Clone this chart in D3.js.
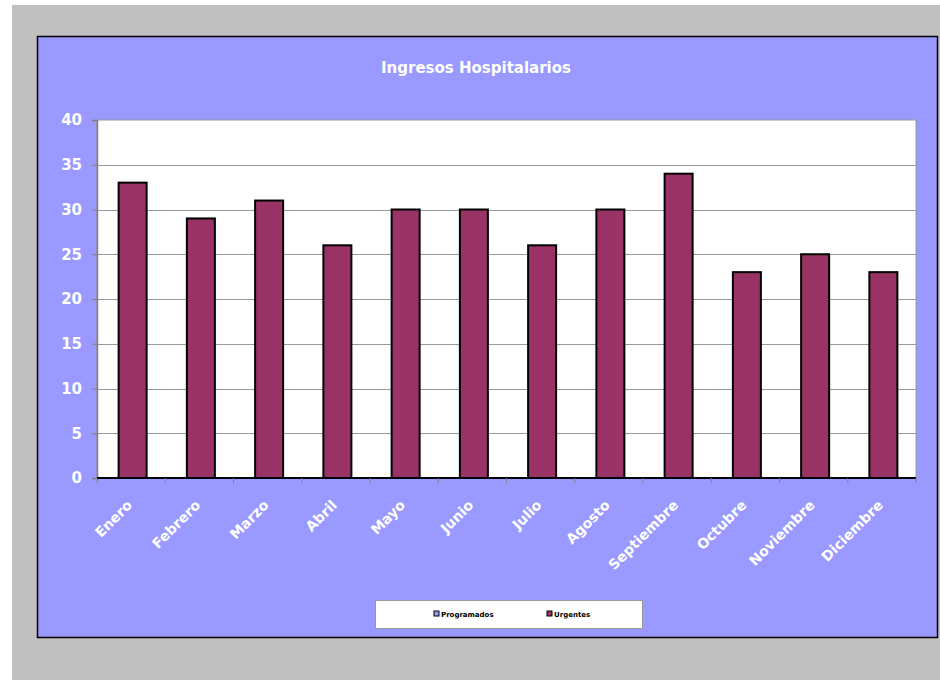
<!DOCTYPE html>
<html>
<head>
<meta charset="utf-8">
<script src="https://cdn.jsdelivr.net/npm/d3@7"></script>
<style>
  body { margin: 0; background: #fff; }
  svg { display: block; }
</style>
</head>
<body>
<svg></svg>
<script>
// Ingresos Hospitalarios - bar chart
const months = ["Enero", "Febrero", "Marzo", "Abril", "Mayo", "Junio", "Julio",
  "Agosto", "Septiembre", "Octubre", "Noviembre", "Diciembre"];
const urgentes = [33, 29, 31, 26, 30, 30, 26, 30, 34, 23, 25, 23];
const yTicks = [0, 5, 10, 15, 20, 25, 30, 35, 40];
const seriesNames = ["Programados", "Urgentes"];
const seriesColors = ["#9999ff", "#993366"];

const W = 940, H = 680;
const svg = d3.select("svg").attr("width", W).attr("height", H);
const font = "'DejaVu Sans', Verdana, sans-serif";

// gray page + blue chart area
svg.append("rect").attr("x", 12).attr("y", 5).attr("width", W - 12).attr("height", H - 5)
  .attr("fill", "#c0c0c0");
svg.append("rect").attr("x", 37.5).attr("y", 36.5).attr("width", 900).attr("height", 601)
  .attr("fill", "#9999ff").attr("stroke", "#000").attr("stroke-width", 1.5);

svg.append("text")
  .attr("x", 476).attr("y", 73)
  .attr("text-anchor", "middle")
  .attr("fill", "#fff")
  .style("font-family", font).style("font-weight", "bold").style("font-size", "15px")
  .text("Ingresos Hospitalarios");

const pLeft = 97, pRight = 916, pTop = 120, pBottom = 478;

const x = d3.scaleBand().domain(months).range([pLeft, pRight]);
const y = d3.scaleLinear().domain([0, 40]).range([pBottom, pTop]);

// plot background
svg.append("rect").attr("x", pLeft).attr("y", pTop)
  .attr("width", pRight - pLeft).attr("height", pBottom - pTop)
  .attr("fill", "#fff").attr("stroke", "#999").attr("stroke-width", 1);

// gridlines
svg.append("g").selectAll("line")
  .data(yTicks.filter(d => d > 0 && d < 40))
  .enter().append("line")
  .attr("x1", pLeft).attr("x2", pRight)
  .attr("y1", d => Math.round(y(d)) + 0.5).attr("y2", d => Math.round(y(d)) + 0.5)
  .attr("stroke", "#999");

// bars
const barW = 28;
svg.append("g").selectAll("rect")
  .data(urgentes)
  .enter().append("rect")
  .attr("x", (d, i) => x(months[i]) + x.bandwidth() / 2 - barW / 2 + 1.5)
  .attr("y", d => y(d))
  .attr("width", barW)
  .attr("height", d => y(0) - y(d))
  .attr("fill", seriesColors[1])
  .attr("stroke", "#000").attr("stroke-width", 2);

// y axis
const yAxis = svg.append("g")
  .attr("transform", `translate(${pLeft},0)`)
  .call(d3.axisLeft(y).tickValues(yTicks).tickSize(5).tickPadding(10));
yAxis.select(".domain").attr("stroke", "#808080").attr("stroke-width", 1.5);
yAxis.selectAll(".tick line").attr("stroke", "#808080");
yAxis.selectAll("text")
  .attr("fill", "#fff")
  .style("font-family", font).style("font-weight", "bold").style("font-size", "15px");

// x axis: ticks at band boundaries
const xAxis = svg.append("g").attr("transform", `translate(0,${pBottom})`);
xAxis.append("line").attr("x1", pLeft).attr("x2", pRight)
  .attr("stroke", "#000").attr("stroke-width", 2);
xAxis.selectAll("line.tk")
  .data(months.concat(["_end"]))
  .enter().append("line").attr("class", "tk")
  .attr("x1", (d, i) => i < months.length ? x(d) : pRight)
  .attr("x2", (d, i) => i < months.length ? x(d) : pRight)
  .attr("y1", 0).attr("y2", 5)
  .attr("stroke", "#808080");
xAxis.selectAll("text")
  .data(months)
  .enter().append("text")
  .attr("transform", d => `translate(${x(d) + x.bandwidth() / 2 + 2},${28}) rotate(-45)`)
  .attr("text-anchor", "end")
  .attr("fill", "#fff")
  .style("font-family", font).style("font-weight", "bold").style("font-size", "14px")
  .text(d => d);

// legend
const lg = svg.append("g").attr("transform", "translate(375,600)");
lg.append("rect").attr("x", 0.5).attr("y", 0.5).attr("width", 267).attr("height", 28)
  .attr("fill", "#fff").attr("stroke", "#999");
const items = lg.selectAll("g.item")
  .data(seriesNames)
  .enter().append("g")
  .attr("transform", (d, i) => `translate(${[59, 172][i]},11)`);
items.append("rect").attr("width", 5).attr("height", 5)
  .attr("fill", (d, i) => seriesColors[i]).attr("stroke", "#000").attr("stroke-width", 1);
items.append("text").attr("x", 7).attr("y", 6)
  .attr("fill", "#000")
  .style("font-family", font).style("font-weight", "bold").style("font-size", "7px")
  .text(d => d);
</script>
</body>
</html>
